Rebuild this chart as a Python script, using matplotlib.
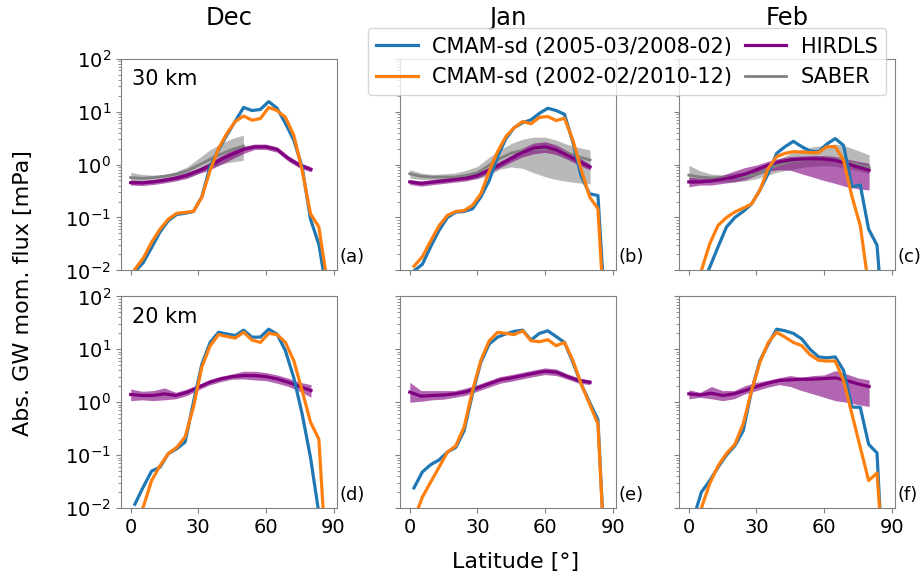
import matplotlib.pyplot as plt
import numpy as np

# latitudes
lat = [1.86, 5.57, 9.28, 12.99, 16.7, 20.42, 24.13, 27.84, 31.55, 35.26, 38.97, 42.68,
       46.39, 50.1, 53.81, 57.53, 61.24, 64.95, 68.66, 72.37, 76.08, 79.79, 83.5, 87.21]
lat_obs = [0, 5, 10, 15, 20, 25, 30, 35, 40, 45, 50, 55, 60, 65, 70, 75, 80]
lat_saber_dec = [0, 5, 10, 15, 20, 25, 30, 35, 40, 45, 50]

months = ['Dec', 'Jan', 'Feb']
levels = ['30 km', '20 km']
panel_tags = ['(a)', '(b)', '(c)', '(d)', '(e)', '(f)']

# CMAM-sd (2005-03/2008-02)
cmam1_dec30 = [0.0095, 0.014, 0.027, 0.053, 0.087, 0.114, 0.12, 0.13, 0.245, 0.93, 1.9, 3.6,
               6.6, 12, 10.5, 11, 15.5, 11.6, 6.0, 2.9, 0.9, 0.093, 0.031, 0.0035]
cmam1_jan30 = [0.0098, 0.013, 0.028, 0.057, 0.10, 0.126, 0.13, 0.146, 0.245, 0.5, 1.41, 3.1,
               5.0, 6.2, 7.0, 9.3, 11.6, 10.5, 8.9, 2.65, 0.6, 0.28, 0.26, 0.0007]
cmam1_feb30 = [0.002, 0.005, 0.0115, 0.028, 0.066, 0.1, 0.13, 0.18, 0.33, 0.68, 1.63, 2.18,
               2.75, 2.18, 1.8, 1.75, 2.45, 3.1, 2.3, 0.38, 0.41, 0.06, 0.03, 0.0003]
cmam1_dec20 = [0.0118, 0.025, 0.05, 0.059, 0.107, 0.132, 0.176, 1.0, 5.2, 13.5, 21, 19.5,
               18.2, 23, 17, 17, 24, 19.4, 9.4, 2.9, 0.6, 0.09, 0.008, 0.001]
cmam1_jan20 = [0.024, 0.048, 0.066, 0.081, 0.114, 0.14, 0.29, 1.45, 5.7, 12.6, 17, 19.6,
               21.9, 23, 15.0, 20, 22.4, 17.4, 13.5, 5.7, 2.2, 1.0, 0.47, 0.0003]
cmam1_feb20 = [0.006, 0.02, 0.033, 0.059, 0.1, 0.15, 0.29, 1.66, 6.1, 12.6, 24, 22.4,
               20, 15.7, 10, 7.2, 6.9, 7.2, 4.0, 0.81, 0.8, 0.16, 0.11, 0.0001]

# CMAM-sd (2002-02/2010-12)
cmam2_dec30 = [0.0105, 0.017, 0.034, 0.06, 0.093, 0.12, 0.125, 0.13, 0.24, 0.78, 2.0, 3.9,
               6.5, 8.3, 6.9, 7.4, 12, 10.5, 7.8, 3.6, 0.78, 0.117, 0.066, 0.006]
cmam2_jan30 = [0.012, 0.018, 0.036, 0.07, 0.11, 0.13, 0.135, 0.17, 0.28, 0.75, 1.75, 3.4,
               5.0, 6.5, 5.9, 7.8, 8.1, 6.8, 7.5, 2.9, 0.8, 0.245, 0.146, 0.0003]
cmam2_feb30 = [0.004, 0.01, 0.032, 0.071, 0.1, 0.127, 0.15, 0.18, 0.33, 0.85, 1.41, 1.63,
               1.75, 1.72, 1.68, 1.68, 2.18, 2.18, 1.2, 0.25, 0.07, 0.005, 0.001, 0.0005]
cmam2_dec20 = [0.005, 0.0105, 0.033, 0.063, 0.107, 0.14, 0.22, 0.81, 4.6, 11.7, 19, 17.5,
               16.3, 21, 15, 13.5, 20, 19, 13.5, 6.1, 1.66, 0.42, 0.2, 0.0005]
cmam2_jan20 = [0.006, 0.016, 0.031, 0.059, 0.114, 0.15, 0.34, 1.66, 6.2, 14.5, 21, 20,
               19, 22.4, 14.5, 13.9, 15.2, 11.7, 13.5, 6.2, 2.2, 0.93, 0.39, 0.0003]
cmam2_feb20 = [0.003, 0.01, 0.029, 0.063, 0.107, 0.16, 0.39, 1.66, 5.7, 13.5, 21, 17,
               13.5, 11.7, 7.9, 6.2, 6.0, 6.0, 2.57, 0.6, 0.14, 0.033, 0.046, 0.0003]

# HIRDLS mean, upper, lower
hirdls_dec30 = [0.455, 0.45, 0.47, 0.505, 0.55, 0.63, 0.76, 0.94, 1.25, 1.57, 1.93, 2.16, 2.16, 1.93, 1.3, 0.97, 0.81]
hirdls_dec30_hi = [0.51, 0.50, 0.52, 0.56, 0.62, 0.71, 0.85, 1.09, 1.46, 1.87, 2.23, 2.44, 2.44, 2.16, 1.46, 1.09, 0.91]
hirdls_dec30_lo = [0.41, 0.40, 0.42, 0.45, 0.49, 0.55, 0.67, 0.79, 1.01, 1.28, 1.62, 1.93, 1.93, 1.71, 1.15, 0.86, 0.73]
hirdls_jan30 = [0.47, 0.44, 0.465, 0.49, 0.52, 0.55, 0.62, 0.78, 1.0, 1.3, 1.7, 2.05, 2.16, 1.9, 1.5, 1.15, 0.9]
hirdls_jan30_hi = [0.52, 0.49, 0.52, 0.55, 0.58, 0.62, 0.69, 0.88, 1.15, 1.5, 2.05, 2.55, 2.7, 2.35, 1.8, 1.35, 1.02]
hirdls_jan30_lo = [0.42, 0.39, 0.415, 0.44, 0.465, 0.49, 0.55, 0.69, 0.87, 1.12, 1.4, 1.6, 1.7, 1.55, 1.25, 0.98, 0.79]
hirdls_feb30 = [0.47, 0.47, 0.49, 0.53, 0.58, 0.66, 0.8, 0.97, 1.12, 1.22, 1.27, 1.28, 1.27, 1.2, 1.05, 0.9, 0.78]
hirdls_feb30_hi = [0.58, 0.55, 0.58, 0.63, 0.75, 0.88, 0.98, 1.15, 1.3, 1.42, 1.45, 1.48, 1.48, 1.42, 1.28, 1.15, 1.05]
hirdls_feb30_lo = [0.38, 0.41, 0.41, 0.44, 0.47, 0.52, 0.63, 0.75, 0.8, 0.78, 0.67, 0.58, 0.50, 0.44, 0.38, 0.35, 0.33]
hirdls_dec20 = [1.40, 1.34, 1.34, 1.44, 1.34, 1.54, 1.92, 2.38, 2.76, 3.05, 3.19, 3.19, 3.05, 2.76, 2.38, 1.98, 1.66]
hirdls_dec20_hi = [1.78, 1.61, 1.66, 1.86, 1.54, 1.78, 2.15, 2.68, 3.09, 3.42, 3.85, 3.85, 3.63, 3.28, 2.84, 2.38, 2.15]
hirdls_dec20_lo = [1.07, 1.11, 1.07, 1.11, 1.16, 1.34, 1.71, 2.12, 2.45, 2.72, 2.76, 2.64, 2.56, 2.28, 1.98, 1.61, 1.24]
hirdls_jan20 = [1.55, 1.3, 1.34, 1.37, 1.44, 1.58, 1.86, 2.22, 2.64, 2.88, 3.18, 3.52, 3.85, 3.7, 3.05, 2.57, 2.38]
hirdls_jan20_hi = [2.38, 1.66, 1.66, 1.66, 1.66, 1.86, 2.15, 2.56, 3.05, 3.33, 3.68, 4.07, 4.45, 4.25, 3.42, 2.88, 2.64]
hirdls_jan20_lo = [1.0, 1.04, 1.11, 1.14, 1.24, 1.36, 1.61, 1.92, 2.28, 2.49, 2.76, 3.05, 3.33, 3.19, 2.72, 2.28, 2.15]
hirdls_feb20 = [1.44, 1.37, 1.48, 1.34, 1.44, 1.66, 1.98, 2.29, 2.57, 2.64, 2.72, 2.72, 2.8, 2.88, 2.57, 2.22, 1.98]
hirdls_feb20_hi = [1.71, 1.54, 1.98, 1.66, 1.66, 2.06, 2.38, 2.6, 2.9, 3.19, 2.96, 3.19, 3.28, 3.96, 3.42, 2.88, 2.64]
hirdls_feb20_lo = [1.16, 1.24, 1.16, 1.07, 1.16, 1.44, 1.66, 1.92, 2.15, 1.98, 1.66, 1.44, 1.24, 1.07, 1.0, 0.90, 0.83]

# SABER mean, upper, lower (30 km only)
saber_dec30 = [0.567, 0.55, 0.567, 0.6, 0.655, 0.76, 0.97, 1.24, 1.57, 1.93, 2.23]
saber_dec30_hi = [0.71, 0.65, 0.63, 0.65, 0.73, 0.9, 1.3, 1.87, 2.5, 3.1, 3.6]
saber_dec30_lo = [0.42, 0.45, 0.47, 0.49, 0.52, 0.57, 0.69, 0.84, 1.01, 1.12, 1.21]
saber_jan30 = [0.67, 0.60, 0.58, 0.58, 0.58, 0.62, 0.70, 0.95, 1.3, 1.65, 1.85, 1.95, 2.0, 1.9, 1.65, 1.4, 1.22]
saber_jan30_hi = [0.80, 0.69, 0.65, 0.67, 0.69, 0.78, 0.92, 1.35, 1.9, 2.5, 3.0, 3.3, 3.3, 2.9, 2.4, 2.1, 1.88]
saber_jan30_lo = [0.56, 0.52, 0.52, 0.52, 0.52, 0.52, 0.54, 0.62, 0.82, 0.9, 0.85, 0.7, 0.59, 0.52, 0.48, 0.45, 0.43]
saber_feb30 = [0.63, 0.58, 0.56, 0.56, 0.57, 0.60, 0.65, 0.82, 1.0, 1.15, 1.22, 1.26, 1.28, 1.24, 1.14, 1.0, 0.88]
saber_feb30_hi = [0.97, 0.76, 0.66, 0.64, 0.68, 0.74, 0.82, 1.0, 1.3, 1.6, 1.95, 2.15, 2.3, 2.45, 2.2, 1.85, 1.52]
saber_feb30_lo = [0.44, 0.45, 0.47, 0.47, 0.47, 0.49, 0.54, 0.63, 0.73, 0.8, 0.88, 0.93, 0.95, 0.93, 0.84, 0.76, 0.67]

cmam1 = [cmam1_dec30, cmam1_jan30, cmam1_feb30, cmam1_dec20, cmam1_jan20, cmam1_feb20]
cmam2 = [cmam2_dec30, cmam2_jan30, cmam2_feb30, cmam2_dec20, cmam2_jan20, cmam2_feb20]
hirdls = [(hirdls_dec30, hirdls_dec30_lo, hirdls_dec30_hi), (hirdls_jan30, hirdls_jan30_lo, hirdls_jan30_hi),
          (hirdls_feb30, hirdls_feb30_lo, hirdls_feb30_hi), (hirdls_dec20, hirdls_dec20_lo, hirdls_dec20_hi),
          (hirdls_jan20, hirdls_jan20_lo, hirdls_jan20_hi), (hirdls_feb20, hirdls_feb20_lo, hirdls_feb20_hi)]
saber = [(lat_saber_dec, saber_dec30, saber_dec30_lo, saber_dec30_hi),
         (lat_obs, saber_jan30, saber_jan30_lo, saber_jan30_hi),
         (lat_obs, saber_feb30, saber_feb30_lo, saber_feb30_hi)]

plt.rcParams['font.size'] = 14
plt.rcParams['axes.edgecolor'] = '#808080'
plt.rcParams['xtick.color'] = '#808080'
plt.rcParams['ytick.color'] = '#808080'
plt.rcParams['xtick.labelcolor'] = 'black'
plt.rcParams['ytick.labelcolor'] = 'black'

fig, axes = plt.subplots(2, 3, figsize=(9.22, 5.76), dpi=100, sharex=True, sharey=True)
fig.subplots_adjust(left=0.131, right=0.971, bottom=0.118, top=0.898, wspace=0.29, hspace=0.123)

for i, ax in enumerate(axes.flat):
    if i < 3:
        x, m, lo, hi = saber[i]
        ax.fill_between(x, lo, hi, color='gray', alpha=0.55, lw=0)
    h, hlo, hhi = hirdls[i]
    ax.fill_between(lat_obs, hlo, hhi, color='purple', alpha=0.6, lw=0)
    if i < 3:
        ax.plot(x, m, color='gray', lw=2, label='SABER')
    ax.plot(lat_obs, h, color='purple', lw=2.3, label='HIRDLS')
    ax.plot(lat, cmam1[i], color='tab:blue', lw=2.3, label='CMAM-sd (2005-03/2008-02)')
    ax.plot(lat, cmam2[i], color='tab:orange', lw=2.3, label='CMAM-sd (2002-02/2010-12)')
    ax.set_yscale('log')
    ax.set_ylim(1e-2, 1e2)
    ax.set_xlim(-4.4, 91.6)
    ax.set_xticks([0, 30, 60, 90])
    ax.text(1.01, 0.02, panel_tags[i], transform=ax.transAxes, fontsize=13, ha='left', va='bottom')
    if i < 3:
        ax.set_title(months[i], fontsize=17.5, pad=24)

axes[0, 0].text(0.05, 0.95, levels[0], transform=axes[0, 0].transAxes, va='top', fontsize=15)
axes[1, 0].text(0.05, 0.95, levels[1], transform=axes[1, 0].transAxes, va='top', fontsize=15)

hd, lb = axes[0, 1].get_legend_handles_labels()
order = [2, 3, 1, 0]
fig.legend([hd[k] for k in order], [lb[k] for k in order], loc='upper right',
           bbox_to_anchor=(0.961, 0.951), borderaxespad=0, ncol=2, fontsize=15,
           columnspacing=0.6, handletextpad=0.7)

fig.text(0.025, 0.491, 'Abs. GW mom. flux [mPa]', rotation=90, ha='center', va='center', fontsize=16)
fig.text(0.559, 0.024, 'Latitude [°]', ha='center', va='center', fontsize=16)

plt.savefig('out.png', dpi=100)
